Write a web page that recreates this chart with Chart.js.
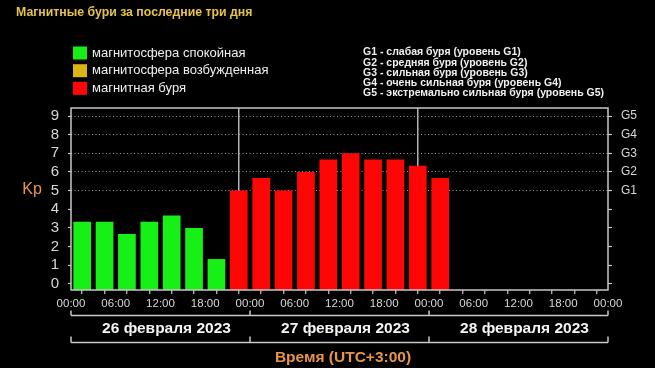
<!DOCTYPE html>
<html>
<head>
<meta charset="utf-8">
<script src="https://cdn.jsdelivr.net/npm/chart.js@4/dist/chart.umd.min.js"></script>
<style>
  html, body { margin: 0; padding: 0; background: #000; }
  #wrap { width: 655px; height: 368px; position: relative; }
</style>
</head>
<body>
<div id="wrap"><canvas id="kp-chart" width="655" height="368"></canvas></div>
<script>
'use strict';

// Data: 3-hour Kp index, hours counted from 26 Feb 00:00 (UTC+3)
const SLOT_MID_HOURS = [1.5, 4.5, 7.5, 10.5, 13.5, 16.5, 19.5, 22.5,
                        25.5, 28.5, 31.5, 34.5, 37.5, 40.5, 43.5, 46.5,
                        49.5];
const KP_VALUES = [3.33, 3.33, 2.67, 3.33, 3.67, 3, 1.33, 5,
                   5.67, 5, 6, 6.67, 7, 6.67, 6.67, 6.33,
                   5.67];
const KP_TICKS = [0, 1, 2, 3, 4, 5, 6, 7, 8, 9];
const G_TICKS = [5, 6, 7, 8, 9];
const G_LABELS = ['G1', 'G2', 'G3', 'G4', 'G5'];
const DAY_START_HOURS = [0, 24, 48, 72];
const DAY_LABELS = ['26 февраля 2023', '27 февраля 2023', '28 февраля 2023'];
const LEGEND_LABELS = ['магнитосфера спокойная', 'магнитосфера возбужденная', 'магнитная буря'];
const G_DESCRIPTIONS = [
    'G1 - слабая буря (уровень G1)',
    'G2 - средняя буря (уровень G2)',
    'G3 - сильная буря (уровень G3)',
    'G4 - очень сильная буря (уровень G4)',
    'G5 - экстремально сильная буря (уровень G5)'
];

const GREEN = '#16f016';
const GOLD = '#dcb414';
const RED = '#fe0606';
const LEGEND_COLORS = [GREEN, GOLD, RED];
const LINE_GREY = '#c8c8c8';
const TEXT_GREY = '#d8d8d8';
const ORANGE = '#e8944a';
const FONT = '"Liberation Sans", Arial, sans-serif';

const Y_MIN = -0.33;
const Y_MAX = 9.43;

function kpColor(v) {
    if (v >= 5) return RED;
    if (v >= 4) return GOLD;
    return GREEN;
}

function pad2(n) {
    return (n < 10 ? '0' : '') + n;
}

// Texts, frame and date brackets around the plot
const decorations = {
    id: 'decorations',
    afterDraw(chart) {
        const ctx = chart.ctx;
        const area = chart.chartArea;
        const x = chart.scales.x;
        ctx.save();

        // frame
        ctx.strokeStyle = LINE_GREY;
        ctx.lineWidth = 1.5;
        ctx.strokeRect(area.left, area.top, area.right - area.left, area.bottom - area.top);

        // title
        ctx.fillStyle = '#e6c34a';
        ctx.font = 'bold 12.3px ' + FONT;
        ctx.textAlign = 'left';
        ctx.textBaseline = 'middle';
        ctx.fillText('Магнитные бури за последние три дня', 16, 13);

        // colour legend
        ctx.font = '13px ' + FONT;
        LEGEND_LABELS.forEach(function(label, i) {
            const cy = 53 + i * 17.7;
            ctx.fillStyle = LEGEND_COLORS[i];
            ctx.fillRect(73, cy - 6.5, 14, 13);
            ctx.fillStyle = '#f0f0f0';
            ctx.fillText(label, 92, cy);
        });

        // G levels legend
        ctx.font = 'bold 10.5px ' + FONT;
        G_DESCRIPTIONS.forEach(function(line, i) {
            ctx.fillText(line, 363, 52.5 + i * 10.2);
        });

        // Kp label
        ctx.fillStyle = ORANGE;
        ctx.font = '16px ' + FONT;
        ctx.textAlign = 'center';
        ctx.fillText('Kp', 32, 190);

        // date brackets
        ctx.strokeStyle = LINE_GREY;
        ctx.lineWidth = 1.5;
        const yTop = 315.5;
        const yBot = 342.5;
        const x0 = x.getPixelForValue(DAY_START_HOURS[0]);
        const x1 = x.getPixelForValue(DAY_START_HOURS[DAY_START_HOURS.length - 1]);
        ctx.beginPath();
        ctx.moveTo(x0, yTop);
        ctx.lineTo(x1, yTop);
        ctx.moveTo(x0, yBot);
        ctx.lineTo(x1, yBot);
        DAY_START_HOURS.forEach(function(h) {
            const px = x.getPixelForValue(h);
            ctx.moveTo(px, yTop - 5);
            ctx.lineTo(px, yTop);
            ctx.moveTo(px, yBot - 6);
            ctx.lineTo(px, yBot);
        });
        ctx.stroke();

        // date labels
        ctx.fillStyle = '#f4f4f4';
        ctx.font = 'bold 15.5px ' + FONT;
        DAY_LABELS.forEach(function(label, i) {
            const cx = (x.getPixelForValue(DAY_START_HOURS[i]) + x.getPixelForValue(DAY_START_HOURS[i + 1])) / 2;
            ctx.fillText(label, cx + 6, 329);
        });

        // x axis title
        ctx.fillStyle = ORANGE;
        ctx.font = 'bold 15.5px ' + FONT;
        ctx.fillText('Время (UTC+3:00)', 343, 358);

        ctx.restore();
    }
};

const points = SLOT_MID_HOURS.map(function(h, i) {
    return { x: h, y: KP_VALUES[i] };
});

new Chart(document.getElementById('kp-chart'), {
    type: 'bar',
    data: {
        datasets: [{
            data: points,
            base: Y_MIN,
            backgroundColor: function(c) { return kpColor(c.raw ? c.raw.y : 0); },
            borderWidth: 0,
            barPercentage: 0.79,
            categoryPercentage: 1,
            yAxisID: 'y'
        }]
    },
    options: {
        responsive: false,
        animation: false,
        layout: { padding: { top: 108, left: 0, right: 0, bottom: 0 } },
        plugins: {
            legend: { display: false },
            tooltip: { enabled: false }
        },
        scales: {
            x: {
                type: 'linear',
                min: 0,
                max: 72,
                offset: false,
                afterFit: function(s) { s.height = 78; },
                afterBuildTicks: function(s) {
                    const t = [];
                    for (let h = 0; h <= 72; h += 3) t.push({ value: h });
                    s.ticks = t;
                },
                ticks: {
                    autoSkip: false,
                    maxRotation: 0,
                    padding: 3,
                    color: TEXT_GREY,
                    font: { family: FONT, size: 11.5 },
                    callback: function(v) {
                        return v % 6 === 0 ? pad2(v % 24) + ':00' : '';
                    }
                },
                grid: {
                    color: function(c) {
                        const v = c.tick ? c.tick.value : -1;
                        return (v === 24 || v === 48) ? '#b4b4b4' : 'transparent';
                    },
                    lineWidth: 1.5,
                    tickColor: LINE_GREY,
                    tickLength: 4,
                    tickWidth: 1.2
                },
                border: { display: false }
            },
            y: {
                position: 'left',
                min: Y_MIN,
                max: Y_MAX,
                afterFit: function(s) { s.width = 71; },
                afterBuildTicks: function(s) {
                    s.ticks = KP_TICKS.map(function(v) { return { value: v }; });
                },
                ticks: {
                    autoSkip: false,
                    padding: 9,
                    color: TEXT_GREY,
                    font: { family: FONT, size: 15 }
                },
                grid: {
                    color: function(c) {
                        return c.tick && c.tick.value >= 5 ? '#9a9a9a' : 'transparent';
                    },
                    lineWidth: 1,
                    tickColor: LINE_GREY,
                    tickLength: 3,
                    tickWidth: 1.2
                },
                border: { display: false, dash: [1, 2.5] }
            },
            y2: {
                position: 'right',
                min: Y_MIN,
                max: Y_MAX,
                afterFit: function(s) { s.width = 47; },
                afterBuildTicks: function(s) {
                    s.ticks = KP_TICKS.map(function(v) { return { value: v }; });
                },
                ticks: {
                    autoSkip: false,
                    padding: 9,
                    color: TEXT_GREY,
                    font: { family: FONT, size: 12 },
                    callback: function(v) {
                        const i = G_TICKS.indexOf(v);
                        return i >= 0 ? G_LABELS[i] : '';
                    }
                },
                grid: {
                    drawOnChartArea: false,
                    tickColor: LINE_GREY,
                    tickLength: 4,
                    tickWidth: 1.2
                },
                border: { display: false }
            }
        }
    },
    plugins: [decorations]
});
</script>
</body>
</html>
